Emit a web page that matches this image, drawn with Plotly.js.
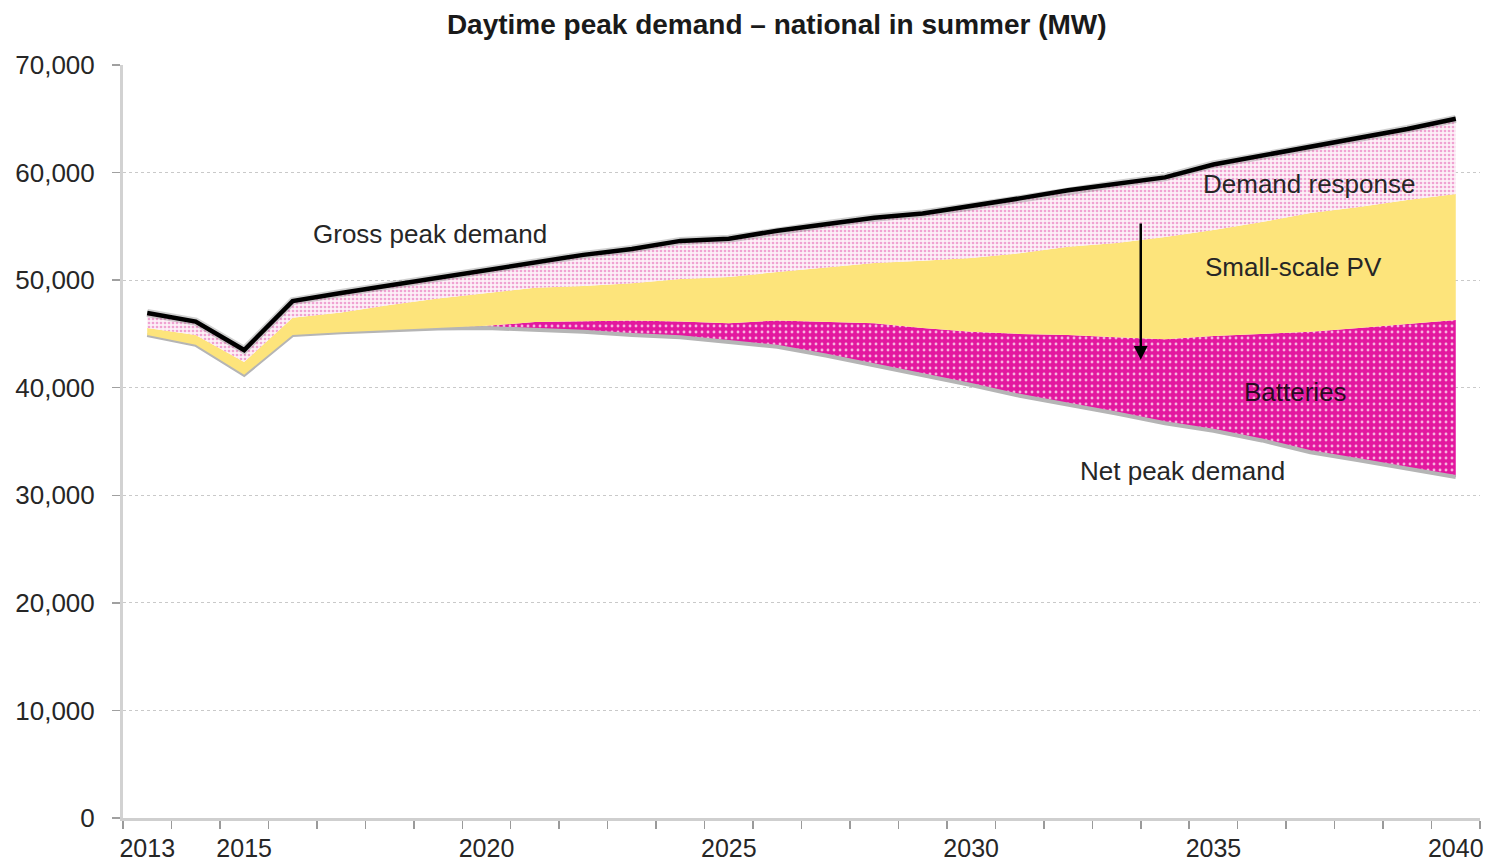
<!DOCTYPE html>
<html>
<head>
<meta charset="utf-8">
<script src="https://cdn.plot.ly/plotly-3.0.1.min.js"></script>
<style>
  html, body { margin: 0; padding: 0; background: #fff; }
  #chart { width: 1488px; height: 865px; }
</style>
</head>
<body>
<div id="chart"></div>
<script>
// ---- Data (MW) ----
const years = [2013, 2014, 2015, 2016, 2017, 2018, 2019, 2020, 2021, 2022, 2023, 2024, 2025, 2026,
               2027, 2028, 2029, 2030, 2031, 2032, 2033, 2034, 2035, 2036, 2037, 2038, 2039, 2040];

// Net peak demand (bottom edge of the stack)
const netPeakDemand = [44900, 44000, 41200, 44900, 45150, 45350, 45500, 45550, 45400, 45200, 44900, 44700, 44250, 43800,
                       43000, 42100, 41200, 40250, 39250, 38450, 37600, 36700, 36000, 35100, 34000, 33250, 32500, 31700];
// Top of the batteries band (= net + batteries)
const batteriesTop = [44900, 44000, 41200, 44900, 45150, 45350, 45550, 45750, 46100, 46150, 46250, 46150, 46000, 46250,
                      46100, 46000, 45550, 45200, 45000, 44900, 44700, 44500, 44800, 45000, 45200, 45550, 45900, 46300];
// Top of the small-scale PV band (= net + batteries + PV)
const pvTop = [45550, 44900, 42400, 46500, 47000, 47700, 48300, 48800, 49300, 49450, 49700, 50100, 50300, 50750,
               51200, 51600, 51800, 52050, 52500, 53100, 53450, 54000, 54650, 55400, 56250, 56800, 57450, 58000];
// Gross peak demand (top edge, black line)
const grossPeakDemand = [46950, 46150, 43500, 48050, 48800, 49500, 50300, 51000, 51700, 52350, 52900, 53650, 53850, 54600,
                         55200, 55800, 56200, 56850, 57600, 58350, 58950, 59550, 60750, 61550, 62350, 63200, 64050, 65000];

const xTickYears = [2013, 2015, 2020, 2025, 2030, 2035, 2040];
const yTickValues = [0, 10000, 20000, 30000, 40000, 50000, 60000, 70000];

const labelFont = { family: 'Liberation Sans, Arial, sans-serif', size: 26, color: '#262626' };

const traces = [
  { // net peak demand edge with grey shadow
    x: years, y: netPeakDemand, type: 'scatter', mode: 'lines',
    line: { color: '#b5b5b5', width: 4 }, hoverinfo: 'skip', showlegend: false
  },
  { // batteries
    x: years, y: batteriesTop, type: 'scatter', mode: 'lines', fill: 'tonexty',
    line: { width: 0, color: '#e3189f' },
    fillcolor: '#e3189f',
    fillpattern: { shape: '.', bgcolor: '#e3189f', fgcolor: '#f7b3de', size: 6, solidity: 0.18 },
    hoverinfo: 'skip', showlegend: false
  },
  { // small-scale PV
    x: years, y: pvTop, type: 'scatter', mode: 'lines', fill: 'tonexty',
    line: { width: 0, color: '#fde47b' },
    fillcolor: '#fde47b', hoverinfo: 'skip', showlegend: false
  },
  { // demand response
    x: years, y: grossPeakDemand, type: 'scatter', mode: 'lines', fill: 'tonexty',
    line: { width: 0, color: '#fbe3f1' },
    fillcolor: '#fbe3f1',
    fillpattern: { shape: '.', bgcolor: '#fdf0f7', fgcolor: '#f0a2d2', size: 4, solidity: 0.35 },
    hoverinfo: 'skip', showlegend: false
  },
  { // gross peak demand line (shadow)
    x: years, y: grossPeakDemand, type: 'scatter', mode: 'lines',
    line: { color: 'rgba(120,120,120,0.35)', width: 8 }, hoverinfo: 'skip', showlegend: false
  },
  { // gross peak demand line
    x: years, y: grossPeakDemand, type: 'scatter', mode: 'lines',
    line: { color: '#000000', width: 4.5 }, hoverinfo: 'skip', showlegend: false
  }
];

const layout = {
  width: 1488, height: 865,
  margin: { l: 123, r: 8, t: 65, b: 47 },
  paper_bgcolor: '#ffffff', plot_bgcolor: '#ffffff',
  showlegend: false,
  title: {
    text: '<b>Daytime peak demand \u2013 national in summer (MW)</b>',
    font: { family: 'Liberation Sans, Arial, sans-serif', size: 28, color: '#1a1a1a' },
    x: 0.522, xanchor: 'center', y: 0.972, yanchor: 'middle'
  },
  xaxis: {
    range: [2012.5, 2040.5],
    tickmode: 'array', tickvals: xTickYears, ticktext: xTickYears.map(String),
    ticks: '', ticklabelstandoff: 6,
    tickfont: { family: 'Liberation Sans, Arial, sans-serif', size: 25, color: '#262626' },
    showgrid: false, zeroline: false,
    showline: true, linecolor: '#cfcfcf', linewidth: 3,
    minor: { tickmode: 'linear', tick0: 2012.5, dtick: 1, ticks: 'outside', ticklen: 8, tickwidth: 1.5, tickcolor: '#9a9a9a', showgrid: false }
  },
  yaxis: {
    range: [0, 70000],
    tickmode: 'array', tickvals: yTickValues, tickformat: ',d',
    ticks: 'outside', ticklen: 8, tickwidth: 1.5, tickcolor: '#a0a0a0',
    ticklabelstandoff: 12,
    tickfont: { family: 'Liberation Sans, Arial, sans-serif', size: 26, color: '#262626' },
    showgrid: true, gridcolor: '#c9c9c9', gridwidth: 1, griddash: 'dot',
    zeroline: false,
    showline: true, linecolor: '#d2d2d2', linewidth: 3
  },
  annotations: [
    { x: 2018.84, y: 54300, xref: 'x', yref: 'y', text: 'Gross peak demand', showarrow: false, font: labelFont },
    { x: 2036.97, y: 58950, xref: 'x', yref: 'y', text: 'Demand response', showarrow: false, font: labelFont },
    { x: 2036.65, y: 51200, xref: 'x', yref: 'y', text: 'Small-scale PV', showarrow: false, font: labelFont },
    { x: 2036.69, y: 39600, xref: 'x', yref: 'y', text: 'Batteries', showarrow: false, font: Object.assign({}, labelFont, { color: '#2a0a22' }) },
    { x: 2034.36, y: 32250, xref: 'x', yref: 'y', text: 'Net peak demand', showarrow: false, font: labelFont },
    { // downward arrow
      x: 2033.5, y: 42600, xref: 'x', yref: 'y',
      ax: 2033.5, ay: 55400, axref: 'x', ayref: 'y',
      text: '', showarrow: true, arrowhead: 2, arrowsize: 1.1, arrowwidth: 2.5, arrowcolor: '#000000'
    }
  ]
};

Plotly.newPlot('chart', traces, layout, { displayModeBar: false, staticPlot: true });
</script>
</body>
</html>
